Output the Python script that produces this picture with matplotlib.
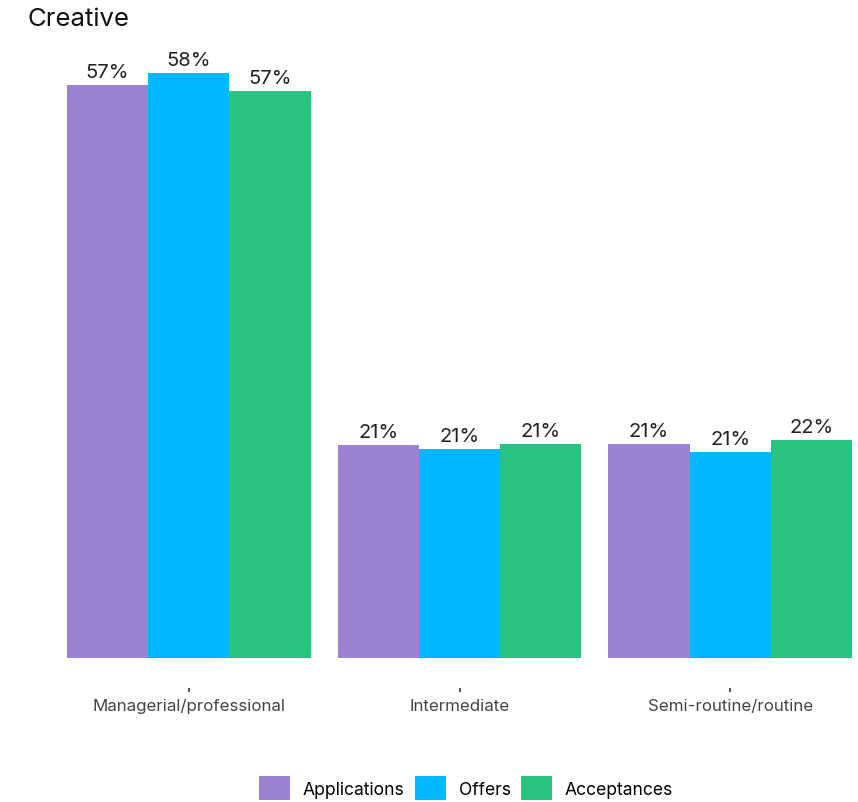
import numpy as np
import matplotlib
matplotlib.use("Agg")
import matplotlib.pyplot as plt
from matplotlib.patches import Patch

plt.rcParams['font.family'] = ['Inter', 'DejaVu Sans']

categories = ["Managerial/professional", "Intermediate", "Semi-routine/routine"]
series = ["Applications", "Offers", "Acceptances"]
applications = [57.2, 21.3, 21.4]
offers = [58.4, 20.9, 20.6]
acceptances = [56.6, 21.4, 21.8]
colors = ["#9B83D3", "#00B8FF", "#28C381"]

fig = plt.figure(figsize=(8.58, 8.03), dpi=100)
W, H = 858, 803
ax = fig.add_axes([67 / W, 1 - 659 / H, (852 - 67) / W, 600.6 / H])

x = np.arange(len(categories))
width = 0.3
for i, (vals, col) in enumerate(zip([applications, offers, acceptances], colors)):
    bars = ax.bar(x + (i - 1) * width, vals, width, color=col, linewidth=0)
    for b, v in zip(bars, vals):
        ax.annotate(f"{round(v):.0f}%", (b.get_x() + b.get_width() / 2, v),
                    xytext=(0, 3), textcoords="offset points",
                    ha="center", va="bottom", fontsize=14.5, color="#222222")

ax.set_xlim(-0.45, 2.45)
ax.set_ylim(0, 60)
ax.set_yticks([])
for s in ["top", "right", "left"]:
    ax.spines[s].set_visible(False)
ax.spines["bottom"].set_position(("outward", 21.6))
ax.spines["bottom"].set_visible(False)
ax.set_xticks(x)
ax.set_xticklabels(categories, fontsize=12.2, color="#444444")
ax.tick_params(axis="x", length=3, width=1.2, color="#333333", pad=4)

fig.text(27 / W, 1 - 19 / H, "Creative", fontsize=18.5, va="center", ha="left", color="#111111")

handles = [Patch(facecolor=c, edgecolor="none") for c in colors]
fig.legend(handles, series, loc="upper center", bbox_to_anchor=(466 / W, 1 - 777 / H),
           ncol=3, frameon=False, fontsize=12.6, handlelength=1.75, handleheight=1.75,
           columnspacing=0.6, handletextpad=0.75, borderaxespad=0, borderpad=0)

fig.savefig("out.png", dpi=100)
